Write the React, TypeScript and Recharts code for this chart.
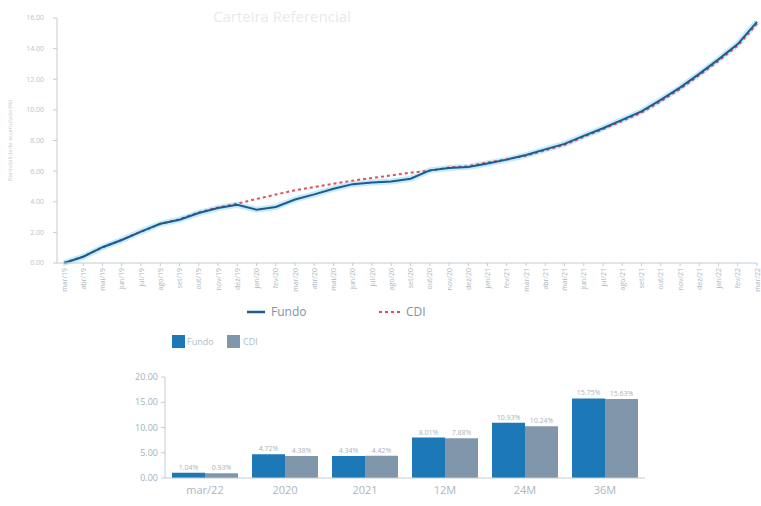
import React from 'react';
import { LineChart, Line, XAxis, YAxis, Legend, BarChart, Bar, LabelList } from 'recharts';

const months = [
  'mar/19', 'abr/19', 'mai/19', 'jun/19', 'jul/19', 'ago/19', 'set/19', 'out/19', 'nov/19', 'dez/19',
  'jan/20', 'fev/20', 'mar/20', 'abr/20', 'mai/20', 'jun/20', 'jul/20', 'ago/20', 'set/20', 'out/20',
  'nov/20', 'dez/20', 'jan/21', 'fev/21', 'mar/21', 'abr/21', 'mai/21', 'jun/21', 'jul/21', 'ago/21',
  'set/21', 'out/21', 'nov/21', 'dez/21', 'jan/22', 'fev/22', 'mar/22',
];
const fundoAcum = [
  0, 0.41, 1.03, 1.5, 2.05, 2.56, 2.83, 3.26, 3.59, 3.8,
  3.48, 3.66, 4.15, 4.48, 4.85, 5.15, 5.25, 5.32, 5.5, 6.05,
  6.2, 6.27, 6.5, 6.75, 7.05, 7.42, 7.78, 8.3, 8.8, 9.35,
  9.9, 10.65, 11.45, 12.35, 13.3, 14.3, 15.75,
];
const cdiAcum = [
  0, 0.42, 1.02, 1.52, 2.05, 2.55, 2.86, 3.3, 3.62, 3.88,
  4.18, 4.47, 4.75, 4.97, 5.17, 5.38, 5.55, 5.72, 5.9, 6.03,
  6.23, 6.33, 6.56, 6.78, 7.0, 7.36, 7.72, 8.24, 8.74, 9.28,
  9.82, 10.56, 11.36, 12.26, 13.2, 14.2, 15.63,
];
const lineTicks = [0, 2, 4, 6, 8, 10, 12, 14, 16];

const periods = ['mar/22', '2020', '2021', '12M', '24M', '36M'];
const fundoPeriodo = [1.04, 4.72, 4.34, 8.01, 10.93, 15.75];
const cdiPeriodo = [0.93, 4.38, 4.42, 7.88, 10.24, 15.63];
const barTicks = [0, 5, 10, 15, 20];

const lineData = months.map((m, i) => ({ mes: m, fundo: fundoAcum[i], cdi: cdiAcum[i] }));
const barData = periods.map((p, i) => ({ periodo: p, fundo: fundoPeriodo[i], cdi: cdiPeriodo[i] }));

const FUNDO_LINE = '#1d5a94';
const CDI_LINE = '#e0505a';
const FUNDO_BAR = '#1c78b6';
const CDI_BAR = '#8096aa';
const AXIS = '#c3ccd4';
const TEXT = '#aab6c0';

const MonthTick = (props: any) => {
  const { x, y, payload } = props;
  return (
    <g transform={`translate(${x},${y})`}>
      <text transform="rotate(-90)" x={0} y={0} dy={2.5} textAnchor="end" fontSize={7} fill={TEXT}>
        {payload.value}
      </text>
    </g>
  );
};

const LineLegend = () => (
  <svg width={761} height={26}>
    <line x1={247} x2={265} y1={12} y2={12} stroke={FUNDO_LINE} strokeWidth={2.5} />
    <text x={271} y={16} fontSize={12} fill="#7f93a6">Fundo</text>
    <line x1={379} x2={403} y1={12} y2={12} stroke={CDI_LINE} strokeWidth={2} strokeDasharray="3 3" />
    <text x={406} y={16} fontSize={12} fill="#7f93a6">CDI</text>
  </svg>
);

const BarLegend = () => (
  <svg width={761} height={25}>
    <rect x={172} y={7} width={13} height={13} fill={FUNDO_BAR} />
    <text x={187} y={17} fontSize={9} fill="#b0bcc6">Fundo</text>
    <rect x={227} y={7} width={13} height={13} fill={CDI_BAR} />
    <text x={243} y={17} fontSize={9} fill="#b0bcc6">CDI</text>
  </svg>
);

export default function App() {
  return (
    <div style={{ position: 'absolute', left: 0, top: 0, width: 761, height: 506, background: '#fff', fontFamily: '"Open Sans", sans-serif', overflow: 'hidden' }}>
      <div style={{ position: 'absolute', left: 213, top: 6, fontSize: 15, color: '#e6eaef' }}>Carteira Referencial</div>
      <div style={{ position: 'absolute', left: 0, top: 0 }}>
        <LineChart width={761} height={330} data={lineData} margin={{ top: 18, right: 4, left: 0, bottom: 0 }}>
          <XAxis
            dataKey="mes"
            interval={0}
            height={37}
            padding={{ left: 7, right: 0 }}
            tick={<MonthTick />}
            tickSize={3}
            tickMargin={2}
            stroke={AXIS}
          />
          <YAxis
            domain={[0, 16]}
            ticks={lineTicks}
            width={57}
            tickSize={4}
            tickMargin={9}
            stroke={AXIS}
            tick={{ fontSize: 7, fill: '#b8c2cb' }}
            tickFormatter={(v: number) => v.toFixed(2)}
            label={{ value: 'Rentabilidade acumulada (%)', angle: -90, position: 'insideLeft', offset: 10, style: { fontSize: 6, fill: '#c4ccd4', textAnchor: 'middle' } }}
          />
          <Legend verticalAlign="bottom" height={30} content={() => <LineLegend />} wrapperStyle={{ top: 300, left: 0, width: 761 }} />
          <Line dataKey="fundo" stroke="#c4ebf6" strokeWidth={6} dot={false} legendType="none" isAnimationActive={false} />
          <Line dataKey="cdi" name="CDI" stroke={CDI_LINE} strokeWidth={2} strokeDasharray="3 3" dot={false} isAnimationActive={false} />
          <Line dataKey="fundo" name="Fundo" stroke={FUNDO_LINE} strokeWidth={2} dot={false} isAnimationActive={false} />
        </LineChart>
      </div>
      <div style={{ position: 'absolute', left: 0, top: 328 }}>
        <BarChart width={761} height={178} data={barData} margin={{ top: 24, right: 116, left: 0, bottom: 8 }} barGap={0}>
          <Legend verticalAlign="top" height={25} content={() => <BarLegend />} wrapperStyle={{ top: 0, left: 0, width: 761 }} />
          <XAxis dataKey="periodo" height={20} tickSize={0} tickMargin={8} stroke={AXIS} tick={{ fontSize: 11, fill: TEXT }} />
          <YAxis
            domain={[0, 20]}
            ticks={barTicks}
            width={165}
            tickSize={4}
            tickMargin={3}
            stroke={AXIS}
            tick={{ fontSize: 9, fill: '#a4b0ba' }}
            tickFormatter={(v: number) => v.toFixed(2)}
          />
          <Bar dataKey="fundo" name="Fundo" fill={FUNDO_BAR} barSize={33} isAnimationActive={false}>
            <LabelList dataKey="fundo" position="top" offset={3} fontSize={7} fill="#a8b4be" formatter={(v: any) => `${Number(v).toFixed(2)}%`} />
          </Bar>
          <Bar dataKey="cdi" name="CDI" fill={CDI_BAR} barSize={33} isAnimationActive={false}>
            <LabelList dataKey="cdi" position="top" offset={3} fontSize={7} fill="#a8b4be" formatter={(v: any) => `${Number(v).toFixed(2)}%`} />
          </Bar>
        </BarChart>
      </div>
    </div>
  );
}
